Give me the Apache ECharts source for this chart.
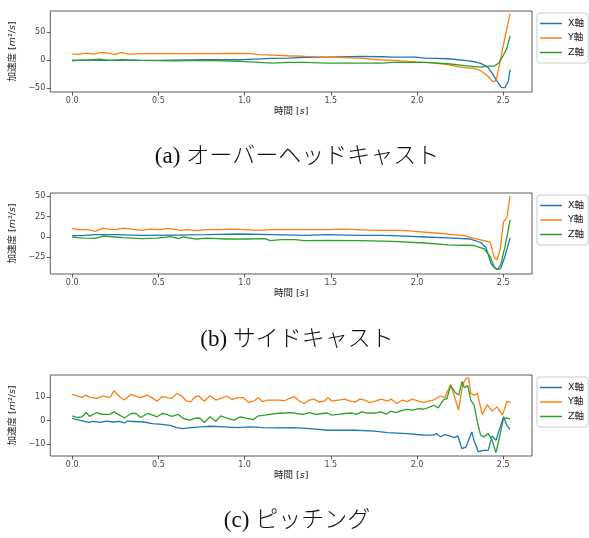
<!DOCTYPE html>
<html>
<head>
<meta charset="utf-8">
<script src="https://cdn.jsdelivr.net/npm/echarts@6/dist/echarts.min.js"></script>
<style>html,body{margin:0;padding:0;background:#fff}#c{width:589px;height:538px}</style>
</head>
<body>
<div id="c"></div>
<script>
// ---------- data ----------
const seriesNames = ['X軸', 'Y軸', 'Z軸'];
const captions = ['(a) オーバーヘッドキャスト', '(b) サイドキャスト', '(c) ピッチング'];
const xTicks = [0, 0.5, 1.0, 1.5, 2.0, 2.5];
const yTicks = [[-50, 0, 50], [-25, 0, 25, 50], [-10, 0, 10]];

// (a) overhead cast
const tA_X = [0, 0.21, 0.49, 0.78, 0.97, 1.06, 1.16, 1.25, 1.35, 1.48, 1.67, 1.80, 1.86, 1.99, 2.05, 2.18, 2.29, 2.34, 2.37, 2.41, 2.44, 2.47, 2.49, 2.51, 2.53, 2.54];
const vA_X = [-0.1, -0.7, -0.7, 0.5, 0.5, 1.7, 2.9, 3.5, 4.7, 5.3, 6.5, 5.9, 5.3, 5.3, 3.5, 2.3, -1.0, -3.5, -6.0, -12.6, -25.5, -40.4, -49.3, -49.3, -37.4, -17.2];
const tA_Y = [0, 0.04, 0.08, 0.125, 0.163, 0.21, 0.248, 0.286, 0.324, 0.40, 0.59, 0.78, 0.97, 1.04, 1.08, 1.16, 1.25, 1.35, 1.40, 1.52, 1.67, 1.78, 1.86, 1.99, 2.09, 2.18, 2.24, 2.28, 2.33, 2.37, 2.41, 2.44, 2.46, 2.48, 2.51, 2.54];
const vA_Y = [10.7, 10.2, 12.4, 10.7, 13.6, 12.4, 9.5, 13.6, 10.7, 11.3, 11.3, 11.3, 11.8, 11.3, 9.5, 8.9, 7.7, 6.5, 6.0, 5.0, 3.5, 0.5, -0.5, -3.2, -5.0, -8.0, -12.0, -13.7, -15.0, -19.0, -28.5, -39.0, -36.4, -4.8, 40.0, 82.7];
const tA_Z = [0, 0.04, 0.12, 0.16, 0.21, 0.29, 0.40, 0.59, 0.78, 0.87, 0.97, 1.06, 1.16, 1.25, 1.35, 1.48, 1.67, 1.80, 1.86, 2.05, 2.18, 2.29, 2.37, 2.41, 2.45, 2.475, 2.50, 2.52, 2.54];
const vA_Z = [-1.3, -0.7, 0.5, 1.7, -0.7, 0.5, -0.7, -1.3, -0.7, -1.3, -2.4, -3.6, -5.4, -4.2, -4.2, -5.4, -5.4, -5.5, -4.2, -4.2, -6.6, -10.5, -12.6, -11.0, -10.8, -5.0, 8.0, 20.0, 42.5];

// (b) side cast
const tB_X = [0, 0.06, 0.13, 0.25, 0.40, 0.59, 0.78, 0.97, 1.16, 1.35, 1.48, 1.67, 1.80, 1.86, 2.05, 2.18, 2.31, 2.37, 2.40, 2.43, 2.45, 2.465, 2.485, 2.51, 2.54];
const vB_X = [1.6, 1.6, 2.8, 2.8, 2.0, 2.4, 2.8, 3.7, 2.8, 2.0, 2.8, 2.0, 2.0, 1.6, 0, -1.0, -2.5, -6.8, -13, -33, -38, -40, -39, -24, -1.0];
const tB_Y = [0, 0.04, 0.094, 0.133, 0.18, 0.21, 0.248, 0.295, 0.343, 0.40, 0.456, 0.513, 0.551, 0.589, 0.627, 0.665, 0.72, 0.778, 0.854, 0.93, 1.006, 1.081, 1.157, 1.29, 1.479, 1.574, 1.763, 1.915, 1.99, 2.104, 2.18, 2.275, 2.30, 2.351, 2.407, 2.426, 2.449, 2.464, 2.483, 2.502, 2.521, 2.54];
const vB_Y = [10.2, 9.0, 9.0, 6.9, 11.0, 9.8, 9.0, 11.0, 9.8, 8.2, 9.8, 9.0, 10.6, 9.8, 8.2, 9.0, 7.8, 9.0, 9.0, 9.8, 9.0, 8.2, 9.0, 9.0, 9.0, 9.8, 8.2, 8.2, 7.0, 4.9, 3.5, 1.6, 0, -2.5, -5.4, -6.6, -26, -28, -15, 19, 23.6, 50.7];
const tB_Z = [0, 0.028, 0.066, 0.133, 0.18, 0.248, 0.295, 0.40, 0.494, 0.57, 0.617, 0.646, 0.72, 0.778, 0.892, 1.006, 1.12, 1.148, 1.214, 1.29, 1.347, 1.479, 1.669, 1.80, 1.858, 2.047, 2.18, 2.332, 2.389, 2.426, 2.449, 2.468, 2.487, 2.511, 2.54];
const vB_Z = [0, -0.9, -1.3, -1.7, 1.2, 0, -0.9, -2.1, -1.3, 0.4, -2.1, 0, -2.5, -1.3, -2.5, -2.5, -2.1, -4.6, -3.3, -3.3, -4.6, -4.1, -4.6, -5.0, -5.4, -7.4, -9.7, -10.5, -14.5, -24.5, -37.5, -40, -33, -11.3, 21];

// (c) pitching
const tC_X = [0, 0.028, 0.066, 0.095, 0.123, 0.161, 0.199, 0.237, 0.275, 0.303, 0.322, 0.360, 0.417, 0.464, 0.521, 0.568, 0.606, 0.644, 0.682, 0.748, 0.805, 0.881, 0.956, 1.032, 1.108, 1.165, 1.278, 1.375, 1.488, 1.641, 1.754, 1.830, 1.943, 2.0, 2.047, 2.095, 2.114, 2.136, 2.161, 2.189, 2.218, 2.237, 2.261, 2.284, 2.318, 2.331, 2.356, 2.383, 2.413, 2.436, 2.458, 2.502, 2.521, 2.540];
const vC_X = [0.9, 0.4, -0.2, -0.8, -0.3, -0.8, -0.2, -0.6, -0.3, -1.0, -0.2, -0.4, -0.6, -1.3, -1.6, -2.0, -3.0, -3.4, -3.0, -2.7, -2.4, -2.7, -3.0, -2.7, -3.0, -3.1, -3.0, -3.4, -4.1, -4.1, -4.5, -5.1, -5.5, -5.9, -6.2, -6.2, -5.5, -6.9, -5.9, -6.5, -7.2, -6.5, -11.9, -11.2, -4.8, -8.4, -13.3, -12.6, -12.6, -6.5, -8.4, 1.6, -2.0, -3.7];
const tC_Y = [0, 0.028, 0.057, 0.080, 0.104, 0.142, 0.180, 0.208, 0.223, 0.242, 0.275, 0.303, 0.341, 0.369, 0.398, 0.436, 0.468, 0.492, 0.521, 0.549, 0.578, 0.606, 0.634, 0.663, 0.688, 0.714, 0.733, 0.767, 0.799, 0.833, 0.862, 0.896, 0.928, 0.956, 0.994, 1.023, 1.051, 1.080, 1.104, 1.131, 1.165, 1.203, 1.231, 1.270, 1.290, 1.318, 1.347, 1.375, 1.403, 1.432, 1.460, 1.485, 1.507, 1.545, 1.580, 1.612, 1.641, 1.669, 1.697, 1.726, 1.758, 1.792, 1.830, 1.849, 1.883, 1.915, 1.943, 1.972, 2.009, 2.041, 2.066, 2.095, 2.136, 2.161, 2.195, 2.218, 2.241, 2.265, 2.284, 2.299, 2.312, 2.331, 2.350, 2.379, 2.407, 2.436, 2.464, 2.496, 2.521, 2.544];
const vC_Y = [11.1, 10.5, 9.8, 10.8, 9.8, 9.4, 10.5, 9.8, 10.1, 12.6, 10.1, 8.7, 11.1, 10.4, 9.7, 10.8, 9.4, 8.2, 10.1, 9.7, 9.4, 11.4, 10.5, 8.2, 8.0, 10.1, 10.5, 8.2, 10.5, 8.7, 9.4, 10.4, 8.9, 9.7, 9.7, 7.7, 8.2, 9.7, 8.0, 8.7, 8.7, 8.7, 8.4, 9.7, 10.1, 8.2, 7.2, 8.7, 9.1, 7.8, 8.2, 9.7, 8.2, 8.7, 9.1, 8.2, 7.8, 9.1, 8.7, 7.6, 8.2, 9.1, 8.2, 9.1, 7.2, 8.7, 8.0, 9.1, 8.2, 7.6, 8.2, 8.7, 10.4, 9.7, 15.3, 10.1, 4.4, 15.3, 17.9, 18.1, 11.5, 10.8, 11.5, 2.5, 6.8, 4.0, 5.8, 2.3, 8.0, 7.7];
const tC_Z = [0, 0.028, 0.057, 0.082, 0.101, 0.142, 0.170, 0.218, 0.242, 0.275, 0.303, 0.341, 0.369, 0.398, 0.436, 0.468, 0.492, 0.521, 0.549, 0.578, 0.616, 0.644, 0.682, 0.710, 0.739, 0.767, 0.799, 0.833, 0.862, 0.900, 0.938, 0.975, 1.013, 1.051, 1.080, 1.117, 1.165, 1.222, 1.278, 1.299, 1.337, 1.375, 1.413, 1.451, 1.479, 1.507, 1.545, 1.583, 1.621, 1.650, 1.678, 1.716, 1.754, 1.792, 1.820, 1.849, 1.877, 1.905, 1.943, 1.972, 2.009, 2.038, 2.066, 2.095, 2.123, 2.152, 2.174, 2.195, 2.221, 2.242, 2.261, 2.275, 2.294, 2.312, 2.331, 2.350, 2.369, 2.388, 2.413, 2.436, 2.458, 2.483, 2.502, 2.521, 2.540];
const vC_Z = [2.0, 1.3, 1.6, 3.4, 1.8, 3.4, 2.6, 2.6, 3.7, 2.3, 1.1, 3.0, 3.0, 1.3, 3.0, 2.3, 1.6, 3.0, 2.6, 1.8, 2.6, 0.9, 0.2, 0.9, 1.1, -0.8, 1.6, -0.3, 2.0, 0.9, 0.2, 1.6, 0.9, 0.4, 2.0, 2.3, 2.8, 3.2, 3.4, 3.0, 2.6, 3.4, 2.6, 3.0, 3.2, 2.3, 2.6, 3.0, 3.2, 2.6, 3.7, 3.2, 3.2, 3.7, 2.7, 4.0, 3.4, 4.1, 4.7, 4.4, 5.1, 4.8, 5.5, 6.5, 5.4, 8.7, 9.4, 14.8, 11.9, 10.8, 16.5, 13.9, 14.8, 8.7, 6.5, -0.6, -6.2, -6.9, -5.5, -8.4, -13.6, -5.5, 0.9, 1.1, 0.6];

const yRanges = [[-57, 87.5], [-45.6, 54.2], [-15.0, 19.3]];
const xRange = [-0.127, 2.667];

// ---------- chart ----------
const panels = [
  [[tA_X, vA_X], [tA_Y, vA_Y], [tA_Z, vA_Z]],
  [[tB_X, vB_X], [tB_Y, vB_Y], [tB_Z, vB_Z]],
  [[tC_X, vC_X], [tC_Y, vC_Y], [tC_Z, vC_Z]]
];
const colors = ['#1f77b4', '#ff7f0e', '#2ca02c'];
const FONT = "'DejaVu Sans', 'Noto Sans CJK JP', sans-serif";
const gridTops = [11, 193, 375];
const captionY = [157, 340, 521];

const zip = (t, v) => t.map((x, i) => [x, v[i]]);
const minus = v => (v < 0 ? '\u2212' + Math.abs(v) : String(v));

const grids = [], xAxes = [], yAxes = [], series = [], legends = [], graphics = [];
for (let p = 0; p < 3; p++) {
  grids.push({ left: 41, top: gridTops[p], width: 491, height: 81, show: true,
    borderColor: '#333', borderWidth: 0.8, backgroundColor: 'transparent' });
  xAxes.push({
    type: 'value', gridIndex: p, min: xRange[0], max: xRange[1],
    splitLine: { show: false }, axisLine: { show: false, onZero: false },
    axisTick: { show: true, length: 3.5, customValues: xTicks, lineStyle: { color: '#333', width: 0.8 } },
    axisLabel: { customValues: xTicks, formatter: v => v.toFixed(1), fontSize: 8, color: '#444', fontFamily: FONT, margin: 5 },
    name: '時間 [{i|s}]', nameLocation: 'middle', nameGap: 15,
    nameTextStyle: { fontSize: 9.5, color: '#222', fontFamily: FONT,
      rich: { i: { fontStyle: 'italic', fontSize: 9.5, fontFamily: FONT, color: '#222' } } }
  });
  yAxes.push({
    type: 'value', gridIndex: p, min: yRanges[p][0], max: yRanges[p][1],
    splitLine: { show: false }, axisLine: { show: false, onZero: false },
    axisTick: { show: true, length: 3.5, customValues: yTicks[p], lineStyle: { color: '#333', width: 0.8 } },
    axisLabel: { customValues: yTicks[p], formatter: minus, fontSize: 8, color: '#444', fontFamily: FONT, margin: 5 },
    name: '加速度 [{i|m}²/{i|s}]', nameLocation: 'middle', nameRotate: 90, nameGap: 23,
    nameTextStyle: { fontSize: 9.5, color: '#222', fontFamily: FONT,
      rich: { i: { fontStyle: 'italic', fontSize: 9.5, fontFamily: FONT, color: '#222' } } }
  });
  panels[p].forEach((pair, s) => {
    series.push({
      type: 'line', name: seriesNames[s], xAxisIndex: p, yAxisIndex: p,
      data: zip(pair[0], pair[1]), symbol: 'none', showSymbol: false,
      lineStyle: { width: 1.3, color: colors[s] }, itemStyle: { color: colors[s] },
      animation: false, z: 2 + s
    });
  });
  legends.push({
    data: seriesNames, orient: 'vertical', left: 537, top: gridTops[p] + 2,
    icon: 'rect', itemWidth: 22, itemHeight: 1.5, itemGap: 3.5,
    backgroundColor: '#fff', borderColor: '#ccc', borderWidth: 1, borderRadius: 3,
    padding: [5, 4, 5, 3], selectedMode: false,
    textStyle: { fontSize: 9.5, lineHeight: 11, color: '#222', fontFamily: FONT, padding: [0, 0, 0, 1] }
  });
  graphics.push({
    type: 'text', x: 297, y: captionY[p],
    style: { text: captions[p], font: "300 23px 'Liberation Serif', 'Noto Sans CJK JP', serif",
      fill: '#111', align: 'center', verticalAlign: 'middle' }
  });
}

const chart = echarts.init(document.getElementById('c'), null, { renderer: 'canvas' });
chart.setOption({
  animation: false,
  backgroundColor: '#fff',
  grid: grids, xAxis: xAxes, yAxis: yAxes, series: series, legend: legends, graphic: graphics
});
</script>
</body>
</html>
